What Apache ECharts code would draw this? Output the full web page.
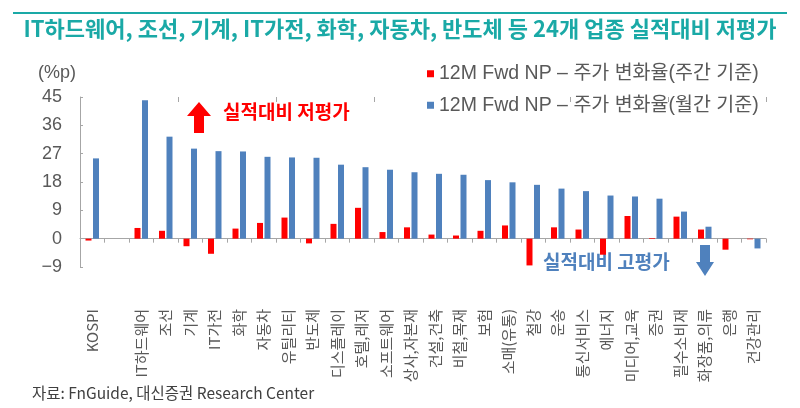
<!DOCTYPE html>
<html><head><meta charset="utf-8">
<script src="https://cdn.jsdelivr.net/npm/echarts@6/dist/echarts.min.js"></script>
<style>html,body{margin:0;padding:0;background:#fff}#c{width:800px;height:408px}</style>
</head><body><div id="c"></div>
<script>
const categories = ['KOSPI','','IT하드웨어','조선','기계','IT가전','화학','자동차','유틸리티','반도체','디스플레이','호텔,레저','소프트웨어','상사,자본재','건설,건축','비철,목재','보험','소매(유통)','철강','운송','통신서비스','에너지','미디어,교육','증권','필수소비재','화장품,의류','은행','건강관리'];
const weekly = [-0.6,null,3.4,2.5,-2.4,-4.8,3.2,5.0,6.7,-1.5,4.7,9.8,2.1,3.6,1.3,1.0,2.5,4.2,-8.5,3.6,2.9,-5.1,7.2,0.2,7.0,2.9,-3.5,-0.2];
const monthly = [25.5,null,44.0,32.4,28.6,27.8,27.7,26.0,25.8,25.7,23.5,22.7,21.9,21.1,20.6,20.3,18.6,17.9,17.1,15.9,15.1,13.7,13.4,12.7,8.6,3.8,0,-3.1];
const yTicks = {min:-9, max:45, interval:9};
const seriesNames = ['12M Fwd NP – 주가 변화율(주간 기준)','12M Fwd NP – 주가 변화율(월간 기준)'];
const titleText = 'IT하드웨어, 조선, 기계, IT가전, 화학, 자동차, 반도체 등 24개 업종 실적대비 저평가';

const FONT = '"Noto Sans CJK KR","Noto Sans",sans-serif';
const LFONT = '"Liberation Sans","Noto Sans CJK KR",sans-serif';
const GRAY = '#595959';
const RED = '#FF0000';
const BLUE = '#4F81BD';
const TEAL = '#1AA9A6';
const AX = '#A6A6A6';

const chart = echarts.init(document.getElementById('c'), null, {renderer:'canvas'});
chart.setOption({
  animation:false,
  textStyle:{fontFamily:FONT},
  grid:{left:80,right:34,top:97,bottom:141,containLabel:false},
  legend:{
    orient:'vertical', left:422, top:59, itemWidth:7, itemHeight:7, itemGap:12,
    icon:'rect',
    textStyle:{fontSize:19.5,color:GRAY,fontFamily:LFONT},
    data:seriesNames
  },
  xAxis:[{
    type:'category', data:categories,
    axisLine:{onZero:true,lineStyle:{color:AX,width:1}},
    axisTick:{show:true,length:4,lineStyle:{color:AX}},
    axisLabel:{interval:0,rotate:90,margin:42,fontSize:15,color:GRAY,fontFamily:FONT}
  },{
    type:'category', data:categories,
    axisLine:{show:false,onZero:true},
    axisTick:{show:true,inside:true,length:5,lineStyle:{color:AX}},
    axisLabel:{show:false}
  }],
  yAxis:{
    type:'value', min:yTicks.min, max:yTicks.max, interval:yTicks.interval,
    axisLine:{show:true,lineStyle:{color:AX}},
    axisTick:{show:true,inside:true,length:3,lineStyle:{color:AX}},
    splitLine:{show:false},
    axisLabel:{margin:18,fontSize:18,color:GRAY,fontFamily:LFONT,formatter:v=>String(v).replace('-','−')}
  },
  series:[
    {name:seriesNames[0],type:'bar',xAxisIndex:0,data:weekly,barWidth:6,barGap:'25%',itemStyle:{color:RED}},
    {name:seriesNames[1],type:'bar',xAxisIndex:0,data:monthly,barWidth:6,barGap:'25%',itemStyle:{color:BLUE}}
  ],
  graphic:[
    {type:'rect',shape:{x:13,y:12,width:774,height:2},style:{fill:TEAL}},
    {type:'text',left:'center',top:18,style:{text:titleText,fontSize:22,fontWeight:'bold',fill:TEAL,fontFamily:FONT}},
    {type:'text',left:38,top:64,style:{text:'(%p)',fontSize:18,fill:GRAY,fontFamily:LFONT}},
    {type:'polygon',shape:{points:[[199,102],[211,116],[204,116],[204,133],[194,133],[194,116],[187,116]]},style:{fill:RED}},
    {type:'text',left:223,top:102,style:{text:'실적대비 저평가',fontSize:19,fontWeight:'bold',fill:RED,fontFamily:FONT}},
    {type:'text',left:543,top:252,style:{text:'실적대비 고평가',fontSize:19,fontWeight:'bold',fill:BLUE,fontFamily:FONT}},
    {type:'polygon',shape:{points:[[700,245],[710,245],[710,262],[714,262],[705,276],[696,262],[700,262]]},style:{fill:BLUE}},
    {type:'text',left:32,top:385,style:{text:'자료: FnGuide, 대신증권 Research Center',fontSize:15.5,fill:'#404040',fontFamily:FONT}}
  ]
});
</script></body></html>
